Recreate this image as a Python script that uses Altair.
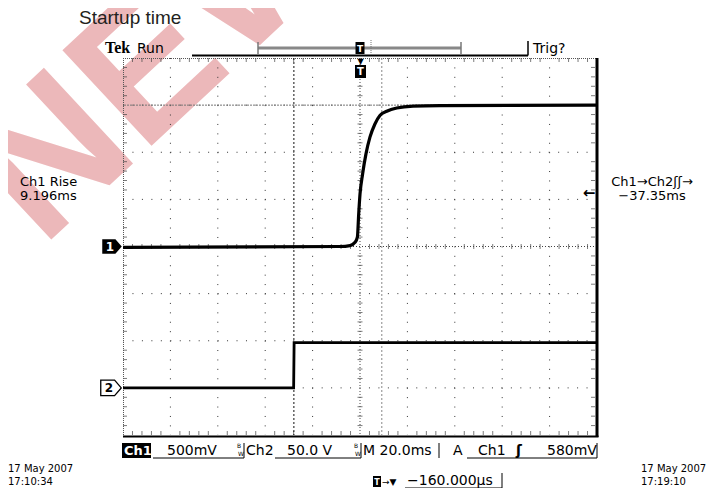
import altair as alt
import pandas as pd

# ---- data (time in ms, level in divisions) ----
ch1_t = [-100, -8.4, -4.2, -2.1, -1.1, -0.55, 0.0, 1.1, 2.5, 4.2, 6.3, 8.4, 11.3, 15.5, 22.4, 33.8, 100]
ch1_v = [-0.02, 0.0, 0.02, 0.09, 0.2, 0.69, 1.11, 1.54, 1.96, 2.32, 2.6, 2.78, 2.87, 2.94, 2.98, 2.99, 3.0]
ch2_t = [-100, -28.0, -27.8, 100]
ch2_v = [-3.0, -3.0, -2.04, -2.04]

grid_t = [-80, -60, -40, -20, 20, 40, 60, 80]
grid_v = [-3, -2, -1, 1, 2, 3]
minor_t = [k * 4 for k in range(-24, 25) if k % 5 != 0]
minor_v = [round(k * 0.2, 2) for k in range(-19, 20) if k % 5 != 0]
cursor_t_dark = [-27.9]
cursor_t_grey = [9.2]
cursor_v = [3.0]
ch_ground = [0.0, -3.0]
screen_left = -100

X = alt.Scale(domain=[-100, 100], nice=False, zero=False)
Y = alt.Scale(domain=[-4, 4], nice=False, zero=False)
one = pd.DataFrame({"k": [0]})

FONT = "DejaVu Sans"


def xq(f="t"):
    return alt.X(f + ":Q", scale=X, axis=None)


def yq(f="v"):
    return alt.Y(f + ":Q", scale=Y, axis=None)


def label(s, x, y, size=14, font=FONT, color="#000", weight="normal",
          align="left", baseline="alphabetic", angle=0):
    kw = dict(text=s, fontSize=size, font=font, color=color, fontWeight=weight,
              align=align, baseline=baseline)
    if angle:
        kw["angle"] = angle
    return alt.Chart(one).mark_text(**kw).encode(x=alt.value(x), y=alt.value(y))


def seg(x, x2, y, y2, color="#000", w=1, dash=None):
    kw = dict(color=color, strokeWidth=w)
    if dash:
        kw["strokeDash"] = dash
    return alt.Chart(one).mark_rule(**kw).encode(
        x=alt.value(x), x2=alt.value(x2), y=alt.value(y), y2=alt.value(y2))


def box(x, x2, y, y2, color="#000"):
    return alt.Chart(one).mark_rect(color=color).encode(
        x=alt.value(x), x2=alt.value(x2), y=alt.value(y), y2=alt.value(y2))


W, H = 474, 377
layers = []

# watermark
layers.append(label("NEW", 81, 39, size=190, font="Liberation Sans", weight="bold",
                    color="#ecb8ba", align="center", baseline="alphabetic", angle=317))

# major grid
dt = pd.DataFrame({"t": grid_t})
dv = pd.DataFrame({"v": grid_v})
layers.append(alt.Chart(dt).mark_rule(color="#333", strokeWidth=1, strokeDash=[1, 8.42]).encode(x=xq()))
layers.append(alt.Chart(dv).mark_rule(color="#333", strokeWidth=1, strokeDash=[1, 8.46]).encode(y=yq()))

# center lines
layers.append(alt.Chart(pd.DataFrame({"t": [0]})).mark_rule(color="#444", strokeDash=[1, 2]).encode(x=xq()))
layers.append(alt.Chart(pd.DataFrame({"v": [0]})).mark_rule(color="#444", strokeDash=[1, 2]).encode(y=yq()))

# minor ticks on center lines and borders
mt = pd.DataFrame({"t": minor_t, "v": [0] * len(minor_t)})
mv = pd.DataFrame({"v": minor_v, "t": [0] * len(minor_v)})
layers.append(alt.Chart(mt).mark_tick(orient="vertical", size=5, thickness=1, color="#444").encode(
    x=xq(), y=yq()))
layers.append(alt.Chart(mv).mark_tick(orient="horizontal", size=5, thickness=1, color="#444").encode(
    y=yq(), x=xq()))
layers.append(alt.Chart(mt).mark_tick(orient="vertical", size=4, thickness=1, color="#444", yOffset=2).encode(
    x=xq(), y=alt.value(0)))
layers.append(alt.Chart(mt).mark_tick(orient="vertical", size=4, thickness=1, color="#444", yOffset=-2).encode(
    x=xq(), y=alt.value(H)))
layers.append(alt.Chart(mv).mark_tick(orient="horizontal", size=4, thickness=1, color="#444", xOffset=2).encode(
    y=yq(), x=alt.value(0)))
layers.append(alt.Chart(mv).mark_tick(orient="horizontal", size=4, thickness=1, color="#444", xOffset=-4).encode(
    y=yq(), x=alt.value(W)))

# borders
layers.append(seg(0, W, 0.5, 0.5, color="#555", dash=[1, 1]))
layers.append(seg(0.5, 0.5, 0, H, color="#555", dash=[1, 1]))
layers.append(seg(W, W, 0, H + 2, color="#000", w=3))
layers.append(seg(0, W + 1.5, H + 1.5, H + 1.5, color="#000", w=2))

# cursors
layers.append(alt.Chart(pd.DataFrame({"t": cursor_t_dark})).mark_rule(color="#111", strokeDash=[2, 2]).encode(x=xq()))
layers.append(alt.Chart(pd.DataFrame({"t": cursor_t_grey})).mark_rule(color="#888", strokeDash=[2, 2]).encode(x=xq()))
layers.append(alt.Chart(pd.DataFrame({"v": cursor_v})).mark_rule(color="#777", strokeDash=[2, 1]).encode(y=yq()))

# traces
d1 = pd.DataFrame({"t": ch1_t, "v": ch1_v})
d2 = pd.DataFrame({"t": ch2_t, "v": ch2_v})
layers.append(alt.Chart(d1).mark_line(color="#000", strokeWidth=3.2, interpolate="monotone").encode(
    x=xq(), y=yq()))
layers.append(alt.Chart(d2).mark_line(color="#000", strokeWidth=2.8).encode(
    x=xq(), y=yq()))

# channel ground markers
shape = "M-1,-0.75L0.35,-0.75L1,0L0.35,0.75L-1,0.75Z"
g1 = pd.DataFrame({"t": [screen_left], "v": [ch_ground[0]]})
g2 = pd.DataFrame({"t": [screen_left], "v": [ch_ground[1]]})
layers.append(alt.Chart(g1).mark_point(
    shape=shape, size=380, filled=True, color="#000", opacity=1, xOffset=-11).encode(x=xq(), y=yq()))
layers.append(alt.Chart(g1).mark_text(
    text="1", color="#fff", fontWeight="bold", fontSize=12, font=FONT, xOffset=-13, baseline="middle").encode(
    x=xq(), y=yq()))
layers.append(alt.Chart(g2).mark_point(
    shape=shape, size=420, filled=True, fill="#fff", stroke="#000", strokeWidth=1.3, opacity=1, xOffset=-12).encode(
    x=xq(), y=yq()))
layers.append(alt.Chart(g2).mark_text(
    text="2", color="#000", fontWeight="bold", fontSize=12, font=FONT, xOffset=-14, baseline="middle").encode(
    x=xq(), y=yq()))

# top bar
layers.append(seg(69, 405, -2.5, -2.5, color="#000", w=2))
layers.append(seg(405, 405, -17, -2.5, color="#000", w=1.5))
layers.append(seg(135, 338, -10, -10, color="#888", w=3))
layers.append(seg(135, 135, -16, -4, color="#777", w=1.5))
layers.append(seg(338, 338, -16, -4, color="#777", w=1.5))
layers.append(seg(248, 248, -18, -3, color="#777", w=1, dash=[1, 1]))
layers.append(box(232.5, 241.5, -16, -4))
layers.append(label("T", 237, -6, size=9, color="#fff", weight="bold", align="center"))
layers.append(box(232, 243, 7, 20))
layers.append(label("T", 237.5, 17, size=10, color="#fff", weight="bold", align="center"))
layers.append(label("▼", 237.5, 6, size=8, align="center"))

# header text
layers.append(label("Startup time", -44, -34, size=19, font="Liberation Sans", color="#231f20"))
layers.append(label("Tek", -18, -5, size=16, font="Liberation Serif", weight="bold"))
layers.append(label("Run", 14, -5, size=14))
layers.append(label("Trig?", 410, -5, size=14))

# measurement readouts
layers.append(label("Ch1 Rise", -103, 128, size=13))
layers.append(label("9.196ms", -103, 142, size=13))
layers.append(label("Ch1→Ch2ʃʃ→", 529, 128, size=13, align="center"))
layers.append(label("−37.35ms", 529, 142, size=13, align="center"))
layers.append(label("←", 466, 140, size=15, weight="bold", align="center"))

# status bar
SB = 397
layers.append(box(-1, 28, 385, 400))
layers.append(label("Ch1", 1, SB, size=13, color="#fff", weight="bold"))
layers.append(label("500mV", 44, SB, size=14))
layers.append(seg(30, 121, 400, 400))
layers.append(label("B", 114, 390, size=6))
layers.append(label("W", 115, 398, size=6))
layers.append(seg(121, 121, 385, 400))
layers.append(label("Ch2", 123, SB, size=14))
layers.append(label("50.0 V", 164, SB, size=14))
layers.append(seg(152, 238, 400, 400))
layers.append(label("B", 231, 390, size=6))
layers.append(label("W", 232, 398, size=6))
layers.append(seg(238, 238, 385, 400))
layers.append(label("M 20.0ms", 240, SB, size=14))
layers.append(seg(316, 316, 385, 400))
layers.append(label("A", 330, SB, size=14))
layers.append(seg(344, 474, 400, 400))
layers.append(label("Ch1", 355, SB, size=14))
layers.append(label("ʃ", 393, SB, size=14, weight="bold"))
layers.append(label("580mV", 424, SB, size=14))
layers.append(seg(474, 474, 385, 400))

# bottom lines
layers.append(label("17 May 2007", -115, 414, size=10))
layers.append(label("17:10:34", -115, 427, size=10))
layers.append(label("17 May 2007", 518, 414, size=10))
layers.append(label("17:19:10", 518, 427, size=10))
layers.append(box(250, 258, 418, 429))
layers.append(label("T", 254, 427, size=8, color="#fff", weight="bold", align="center"))
layers.append(label("→▼", 259, 427, size=9))
layers.append(label("−160.000µs", 284, 427, size=14))
layers.append(seg(282, 379, 430, 430))
layers.append(seg(379, 379, 415, 430))

chart = alt.layer(*layers).properties(
    width=W, height=H,
    padding={"left": 115, "top": 50, "right": 112, "bottom": 53},
    autosize=alt.AutoSizeParams(type="none"),
    background="#ffffff",
).configure_view(stroke=None)

chart.save("out.html", embed_options={"renderer": "svg", "actions": False})
